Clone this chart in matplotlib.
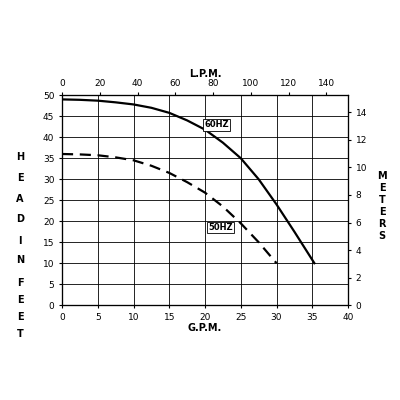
import matplotlib
matplotlib.use("Agg")
import matplotlib.pyplot as plt

gpm60 = [0, 2.5, 5, 7.5, 10, 12.5, 15, 17.5, 20, 22.5, 25, 27.5, 30, 32.5, 35.3]
head60 = [49, 48.9, 48.7, 48.3, 47.8, 47, 45.8, 44, 41.8, 38.7, 35, 30, 24, 17.5, 10]
gpm50 = [0, 2.5, 5, 7.5, 10, 12.5, 15, 17.5, 20, 22.5, 25, 27.5, 30]
head50 = [36, 35.9, 35.7, 35.2, 34.5, 33.2, 31.5, 29.3, 26.8, 23.5, 19.5, 15, 10]

fig = plt.figure(figsize=(4, 4), dpi=100)
ax = fig.add_axes([0.155, 0.237, 0.715, 0.525])
ax.plot(gpm60, head60, color='black', lw=1.6)
ax.plot(gpm50, head50, color='black', lw=1.6, dashes=(5, 3))
ax.set_xlim(0, 40)
ax.set_ylim(0, 50)
ax.set_xticks(range(0, 41, 5))
ax.set_yticks(range(0, 51, 5))
ax.grid(color='black', lw=0.6)
ax.tick_params(labelsize=6.5, length=2)
ax.set_xlabel('G.P.M.', fontsize=7, fontweight='bold', labelpad=1)
for s in ax.spines.values():
    s.set_linewidth(0.8)

ax.text(21.6, 43, '60HZ', fontsize=6, fontweight='bold', ha='center', va='center',
        bbox=dict(facecolor='white', edgecolor='black', lw=0.6, pad=1))
ax.text(22.2, 18.5, '50HZ', fontsize=6, fontweight='bold', ha='center', va='center',
        bbox=dict(facecolor='white', edgecolor='black', lw=0.6, pad=1))

top = ax.twiny()
top.set_xlim(0, 40 * 3.785)
top.set_xticks(range(0, 141, 20))
top.tick_params(labelsize=6.5, length=2)
top.set_xlabel('L.P.M.', fontsize=7, fontweight='bold', labelpad=1)

right = ax.twinx()
right.set_ylim(0, 50 * 0.3048)
right.set_yticks(range(0, 15, 2))
right.tick_params(labelsize=6.5, length=2)

left_letters = 'HEADINFEET'
ys = [157, 177, 198, 219, 240, 260, 282, 302, 322, 342]
ys = [157, 178, 199, 219, 241, 260, 283, 300, 317, 334]
for ch, y in zip(left_letters, ys):
    fig.text(0.05, 1 - y / 400, ch, fontsize=7, fontweight='bold', ha='center', va='center')
for i, ch in enumerate('METERS'):
    fig.text(0.955, 1 - (176 + i * 12) / 400, ch, fontsize=7, fontweight='bold',
             ha='center', va='center')

fig.savefig('out.png', dpi=100, facecolor='white')
